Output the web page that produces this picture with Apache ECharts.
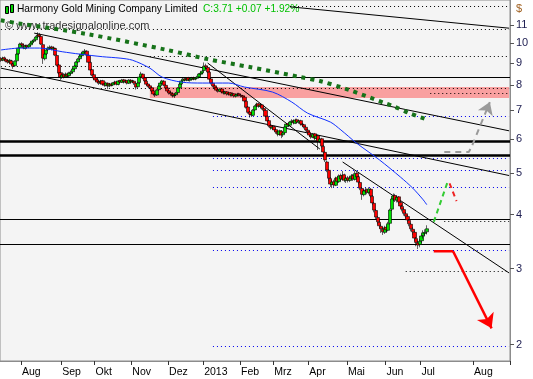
<!DOCTYPE html>
<html><head><meta charset="utf-8">
<script src="https://cdn.jsdelivr.net/npm/echarts@6/dist/echarts.min.js"></script>
<style>html,body{margin:0;padding:0;background:#fff}#c{width:533px;height:379px}</style>
</head><body><div id="c"></div>
<script>
// ---------- axis / calendar ----------
const firstDay = '2012-07-16', lastTradeDay = '2013-07-05', axisEndDay = '2013-08-21';
const holidays = ['2012-09-03','2012-10-29','2012-10-30','2012-11-22','2012-12-25','2013-01-01','2013-01-21','2013-02-18','2013-03-29','2013-05-27','2013-07-04'];
const monthNames = {'2012-08':'Aug','2012-09':'Sep','2012-10':'Okt','2012-11':'Nov','2012-12':'Dez','2013-01':'2013','2013-02':'Feb','2013-03':'Mrz','2013-04':'Apr','2013-05':'Mai','2013-06':'Jun','2013-07':'Jul','2013-08':'Aug'};
const yTicks = [2,3,4,5,6,7,8,9,10,11];
const yMin = 1.831, yMax = 12.59;

// ---------- daily candles (USD) ----------
const opens = [9.20,9.12,9.25,9.17,9.10,9.02,9.10,8.95,8.86,9.10,
9.45,9.76,9.97,9.88,9.72,9.86,9.80,9.91,10.02,10.10,
10.18,10.35,10.46,10.36,9.92,9.20,9.45,9.66,9.75,9.80,
9.68,9.72,9.36,8.90,8.54,8.33,8.45,8.35,8.47,8.40,
8.50,8.58,8.72,8.86,9.04,9.20,9.35,9.44,9.55,9.58,
9.36,9.02,8.68,8.45,8.31,8.22,8.14,8.06,8.18,8.04,
7.98,8.07,7.96,8.04,8.00,8.07,8.13,8.02,8.18,8.11,
8.22,8.13,8.18,8.07,8.20,8.13,8.16,8.06,7.92,8.10,
8.36,8.47,8.31,8.16,8.04,7.96,7.88,7.75,7.60,7.58,
7.80,7.96,8.07,8.16,7.98,7.86,7.75,7.67,7.63,7.55,
7.59,7.68,7.88,8.04,8.18,8.26,8.20,8.31,8.20,8.24,
8.31,8.26,8.29,8.35,8.47,8.53,8.64,8.86,8.78,8.56,
8.26,8.07,7.96,7.88,7.79,7.73,7.83,7.71,7.65,7.71,
7.61,7.67,7.57,7.63,7.53,7.59,7.63,7.57,7.55,7.49,
7.33,7.11,6.92,6.83,6.80,7.00,7.15,7.23,7.13,7.19,
7.05,6.98,6.76,6.61,6.44,6.35,6.40,6.30,6.23,6.14,
6.25,6.13,6.20,6.40,6.50,6.45,6.57,6.61,6.52,6.64,
6.55,6.61,6.48,6.47,6.38,6.28,6.21,6.11,6.05,6.16,
6.01,6.10,5.92,6.00,5.76,5.58,5.30,5.07,4.85,4.70,
4.77,4.68,4.87,4.77,4.93,4.83,4.95,4.80,4.87,4.80,
4.87,4.93,4.83,4.99,4.90,4.75,4.60,4.45,4.55,4.57,
4.50,4.58,4.41,4.25,4.09,3.94,3.84,3.76,3.70,3.64,
3.74,3.68,3.82,4.12,4.36,4.43,4.32,4.40,4.27,4.18,
4.11,4.02,3.96,3.88,3.80,3.70,3.64,3.52,3.44,3.41,
3.48,3.58,3.62,3.65];
const closes = [9.13,9.23,9.18,9.08,9.03,9.13,8.94,8.84,9.08,9.43,
9.74,9.95,9.90,9.74,9.85,9.79,9.90,10.00,10.11,10.16,
10.33,10.44,10.38,9.95,9.23,9.43,9.64,9.74,9.79,9.69,
9.74,9.38,8.89,8.52,8.34,8.43,8.34,8.48,8.39,8.52,
8.57,8.71,8.84,9.03,9.18,9.33,9.43,9.54,9.59,9.38,
9.03,8.66,8.43,8.30,8.21,8.12,8.08,8.17,8.03,7.99,
8.08,7.95,8.03,7.99,8.08,8.12,8.03,8.17,8.12,8.21,
8.12,8.17,8.08,8.21,8.12,8.17,8.08,7.91,8.08,8.34,
8.48,8.30,8.17,8.03,7.95,7.87,7.74,7.62,7.58,7.78,
7.95,8.08,8.17,7.99,7.87,7.74,7.66,7.62,7.54,7.58,
7.66,7.87,8.03,8.17,8.25,8.21,8.30,8.21,8.25,8.30,
8.25,8.30,8.34,8.48,8.52,8.61,8.84,8.80,8.57,8.25,
8.08,7.95,7.87,7.78,7.74,7.82,7.70,7.66,7.70,7.62,
7.66,7.58,7.62,7.54,7.58,7.62,7.58,7.54,7.50,7.34,
7.10,6.91,6.84,6.81,6.99,7.14,7.22,7.14,7.18,7.06,
6.99,6.77,6.60,6.43,6.36,6.39,6.29,6.22,6.15,6.26,
6.12,6.19,6.39,6.49,6.46,6.56,6.60,6.53,6.63,6.56,
6.60,6.49,6.46,6.39,6.29,6.22,6.12,6.06,6.15,6.02,
6.09,5.93,5.99,5.77,5.59,5.36,5.08,4.86,4.71,4.76,
4.69,4.86,4.78,4.92,4.84,4.94,4.81,4.86,4.81,4.86,
4.92,4.84,4.98,4.89,4.76,4.61,4.46,4.54,4.56,4.51,
4.59,4.42,4.26,4.10,3.95,3.85,3.77,3.71,3.65,3.73,
3.69,3.81,4.10,4.35,4.42,4.33,4.39,4.28,4.19,4.12,
4.03,3.97,3.89,3.81,3.71,3.65,3.53,3.45,3.40,3.47,
3.57,3.63,3.64,3.71];
const lows = [9.05,9.08,9.10,9.02,8.96,8.98,8.88,8.72,8.82,9.06,
9.40,9.70,9.82,9.68,9.66,9.72,9.75,9.86,9.96,10.04,
10.12,10.28,10.30,9.90,8.95,9.12,9.38,9.58,9.68,9.62,
9.60,9.33,8.84,8.46,8.22,8.26,8.28,8.30,8.32,8.35,
8.44,8.52,8.66,8.80,8.98,9.14,9.28,9.38,9.46,9.32,
8.98,8.60,8.38,8.22,8.14,8.06,8.00,8.02,7.98,7.92,
7.94,7.82,7.90,7.94,7.95,8.02,7.98,7.98,8.06,8.08,
8.06,8.08,8.02,8.04,8.06,8.08,8.00,7.80,7.88,8.06,
8.30,8.25,8.12,7.98,7.90,7.82,7.68,7.56,7.50,7.55,
7.75,7.92,8.02,7.94,7.82,7.70,7.60,7.55,7.48,7.46,
7.54,7.64,7.84,8.00,8.12,8.15,8.16,8.16,8.14,8.20,
8.20,8.20,8.24,8.30,8.42,8.48,8.60,8.70,8.52,8.20,
8.02,7.90,7.82,7.72,7.68,7.70,7.65,7.60,7.60,7.56,
7.56,7.52,7.52,7.48,7.48,7.54,7.52,7.48,7.44,7.28,
7.05,6.86,6.72,6.74,6.78,6.96,7.10,7.08,7.08,7.01,
6.93,6.72,6.55,6.38,6.30,6.29,6.24,6.16,6.08,6.10,
6.02,6.06,6.16,6.35,6.40,6.42,6.52,6.48,6.49,6.51,
6.50,6.44,6.40,6.34,6.24,6.15,6.06,6.00,6.02,5.96,
5.96,5.65,5.86,5.72,5.54,5.30,5.02,4.80,4.64,4.61,
4.63,4.66,4.73,4.74,4.79,4.80,4.76,4.74,4.75,4.76,
4.82,4.79,4.80,4.83,4.70,4.56,4.33,4.41,4.48,4.46,
4.46,4.38,4.21,4.05,3.90,3.80,3.71,3.63,3.59,3.61,
3.64,3.66,3.80,4.08,4.30,4.28,4.27,4.24,4.14,4.07,
3.98,3.92,3.84,3.76,3.66,3.59,3.48,3.38,3.33,3.36,
3.44,3.52,3.56,3.60];
const highs = [9.28,9.30,9.31,9.22,9.15,9.19,9.14,9.00,9.12,9.48,
9.80,10.02,10.05,9.94,9.92,9.92,9.96,10.06,10.18,10.24,
10.40,10.60,10.56,10.40,9.96,9.50,9.70,9.82,9.88,9.86,
9.82,9.76,9.40,8.95,8.58,8.50,8.52,8.55,8.54,8.58,
8.64,8.76,8.90,9.08,9.24,9.40,9.50,9.60,9.69,9.62,
9.40,9.06,8.72,8.50,8.36,8.28,8.20,8.22,8.22,8.08,
8.14,8.10,8.08,8.10,8.12,8.18,8.16,8.20,8.22,8.26,
8.26,8.22,8.22,8.25,8.25,8.22,8.20,8.10,8.12,8.40,
8.58,8.50,8.36,8.20,8.08,8.00,7.92,7.78,7.66,7.82,
8.00,8.12,8.22,8.20,8.02,7.90,7.78,7.72,7.68,7.62,
7.70,7.90,8.08,8.22,8.30,8.32,8.34,8.35,8.30,8.35,
8.36,8.34,8.40,8.52,8.58,8.66,9.02,8.96,8.84,8.60,
8.30,8.10,8.00,7.92,7.84,7.86,7.86,7.75,7.75,7.74,
7.70,7.70,7.66,7.66,7.62,7.67,7.67,7.62,7.58,7.52,
7.36,7.14,6.96,6.90,7.03,7.18,7.28,7.27,7.23,7.22,
7.09,7.01,6.79,6.64,6.48,6.44,6.43,6.34,6.27,6.30,
6.28,6.23,6.42,6.53,6.55,6.60,6.66,6.65,6.68,6.68,
6.64,6.64,6.53,6.50,6.41,6.31,6.25,6.15,6.19,6.19,
6.13,6.13,6.03,6.03,5.79,5.60,5.34,5.10,4.89,4.82,
4.82,4.90,4.92,4.96,4.98,5.05,4.98,4.90,4.92,4.90,
4.97,4.97,5.05,5.02,4.93,4.78,4.63,4.58,4.62,4.60,
4.63,4.61,4.44,4.28,4.12,3.97,3.88,3.80,3.74,3.77,
3.78,3.85,4.13,4.38,4.48,4.47,4.43,4.42,4.30,4.22,
4.14,4.06,3.99,3.91,3.83,3.74,3.67,3.55,3.48,3.51,
3.60,3.68,3.70,3.78];

// ---------- indicators: [day index, price] ----------
const maBlue = [[0,9.64],[11,9.74],[22,9.74],[35,9.55],[45,9.43],[58,9.30],[68,9.23],[75,9.13],[85,8.75],[92,8.34],[103,8.12],[115,8.08],[130,8.08],[139,7.91],[155,7.70],[166,7.30],[175,6.88],[188,6.56],[194,6.29],[203,5.86],[216,5.36],[228,4.89],[235,4.61],[241,4.33],[243,4.22]];
const maGreen = [[0,11.3],[9,11.13],[49,10.5],[95,9.64],[118,9.18],[142,8.80],[171,8.34],[182,8.17],[199,7.78],[219,7.26],[224,7.14],[233,6.88],[243,6.65]];

// ---------- drawn annotations ----------
const solidLevels = [8.34, 3.91, 3.42];
const thickLevels = [5.93, 5.50];
const dottedBlack = [[0,290,10.78],[0,85,8.84],[85,290,9.33],[165,290,12.19],[0,290,7.87],[245,290,7.66],[253,290,3.87],[231,290,2.95]];
const dottedBlueStart = 121;
const dottedBlue = [6.77, 5.41, 5.06, 4.64, 3.31, 1.98];
const pinkZone = [85, 290, 7.91, 7.46];
const trendLines = [
  [[19,10.55],[290,6.26]],
  [[0,8.75],[290,4.93]],
  [[118,8.99],[182,5.68]],
  [[195,5.30],[290,2.93]],
  [[165,12.14],[290,10.83]]
];
const greenProj = [[247,3.85],[255,4.78]];
const redProj = [[256,4.73],[260,4.30]];
const greyPath = [[253,5.59],[267,5.59],[269,5.80]];
const greyArrowEnd = [279,7.30];
const redPath = [[247,3.29],[258,3.29]];
const redArrowEnd = [280,2.18];

// ---------- build categories ----------
function fmt(d){return d.toISOString().slice(0,10);}
const cats = [];
let d = new Date(firstDay+'T00:00:00Z');
const endT = new Date(lastTradeDay+'T00:00:00Z');
while (d <= endT) { const wd = d.getUTCDay(), s = fmt(d); if (wd>0 && wd<6 && holidays.indexOf(s)<0) cats.push(s); d = new Date(d.getTime()+864e5); }
const endA = new Date(axisEndDay+'T00:00:00Z');
while (d <= endA) { cats.push(fmt(d)); d = new Date(d.getTime()+864e5); }
const lastIdx = cats.length-1;
const isMonthStart = i => i>0 && cats[i].slice(0,7) !== cats[i-1].slice(0,7);

const ohlc = opens.map((o,i)=>[o, closes[i], lows[i], highs[i]]);

const FONT = 'Liberation Sans, Arial, sans-serif';
const series = [];
series.push({
  type:'candlestick', data: ohlc, barWidth: 3.6, z: 5,
  itemStyle:{color:'#00e000', color0:'#ff0000', borderColor:'#000', borderColor0:'#000', borderWidth:0.6},
  markArea:{silent:true, z:1, itemStyle:{color:'#f9a0a0'}, data:[[{coord:[pinkZone[0],pinkZone[2]]},{coord:[pinkZone[1],pinkZone[3]]}]]},
  markLine:{silent:true, symbol:'none', label:{show:false}, z:2, animation:false,
    data: solidLevels.map(v=>({yAxis:v, lineStyle:{color:'#000', width:1, type:'solid'}}))
      .concat(thickLevels.map(v=>({yAxis:v, lineStyle:{color:'#000', width:2.5, type:'solid'}})))
      .concat(dottedBlack.map(a=>[{coord:[a[0],a[2]], lineStyle:{color:'#000', width:1, type:[1,3]}},{coord:[a[1],a[2]]}]))
      .concat(dottedBlue.map(v=>[{coord:[dottedBlueStart,v], lineStyle:{color:'#0000ee', width:1, type:[1,3]}},{coord:[lastIdx,v]}]))
  }
});
trendLines.forEach(t=>series.push({type:'line', data:t, symbol:'none', silent:true, z:3, lineStyle:{color:'#000', width:1}}));
series.push({type:'line', data:maBlue, symbol:'none', smooth:0.3, silent:true, z:6, lineStyle:{color:'#1030ff', width:1}});
series.push({type:'line', data:maGreen, symbol:'none', smooth:0.3, silent:true, z:6, lineStyle:{color:'#17731a', width:4, type:[4,5]}});
series.push({type:'line', data:greenProj, symbol:'none', silent:true, z:6, lineStyle:{color:'#33cc33', width:2, type:[5,4]}});
series.push({type:'line', data:redProj, symbol:'none', silent:true, z:6, lineStyle:{color:'#ee2222', width:2, type:[5,4]}});
series.push({type:'line', data:greyPath, symbol:'none', silent:true, z:6, lineStyle:{color:'#9a9a9a', width:2, type:[6,5]},
  markLine:{silent:true, symbol:['none','arrow'], symbolSize:12, label:{show:false}, animation:false,
    itemStyle:{color:'#9a9a9a'},
    lineStyle:{color:'#9a9a9a', width:2, type:[6,5]}, data:[[{coord:greyPath[greyPath.length-1]},{coord:greyArrowEnd}]]}});
series.push({type:'line', data:redPath, symbol:'none', silent:true, z:6, lineStyle:{color:'#ff0000', width:2.5},
  markLine:{silent:true, symbol:['none','arrow'], symbolSize:14, label:{show:false}, animation:false,
    itemStyle:{color:'#ff0000'},
    lineStyle:{color:'#ff0000', width:2.5, type:'solid'}, data:[[{coord:redPath[redPath.length-1]},{coord:redArrowEnd}]]}});

const chart = echarts.init(document.getElementById('c'), null, {renderer:'canvas'});
chart.setOption({
  animation:false,
  grid:{left:0, right:23, top:0, bottom:18, show:true, backgroundColor:'#f4f4f4', borderColor:'#8c8c8c', borderWidth:1},
  xAxis:{type:'category', data:cats, boundaryGap:true,
    axisLine:{show:true, lineStyle:{color:'#8c8c8c'}},
    axisTick:{show:true, interval:(i)=>isMonthStart(i), length:4, lineStyle:{color:'#333'}},
    axisLabel:{interval:(i)=>isMonthStart(i), formatter:(v)=>monthNames[v.slice(0,7)]||'', align:'left', margin:6, fontSize:10.5, color:'#000', fontFamily:FONT},
    splitLine:{show:false}},
  yAxis:{type:'log', logBase:10, position:'right', min:yMin, max:yMax,
    axisLine:{show:true, lineStyle:{color:'#8c8c8c'}},
    axisTick:{show:true, length:4, customValues:yTicks, lineStyle:{color:'#555'}},
    axisLabel:{customValues:yTicks, formatter:(v)=>String(Math.round(v)), margin:6, fontSize:11, color:'#1c1c50', fontFamily:FONT},
    splitLine:{show:false}},
  series: series,
  graphic:[
    {type:'rect', shape:{x:5.5,y:6.5,width:3,height:7}, style:{fill:'#00d000', stroke:'#000', lineWidth:1}},
    {type:'line', shape:{x1:7,y1:3,x2:7,y2:16}, style:{stroke:'#000', lineWidth:1}, z:-1},
    {type:'rect', shape:{x:10.5,y:4.5,width:3,height:8}, style:{fill:'#00d000', stroke:'#000', lineWidth:1}},
    {type:'line', shape:{x1:12,y1:2,x2:12,y2:15}, style:{stroke:'#000', lineWidth:1}, z:-1},
    {type:'text', x:17, y:9, style:{text:'Harmony Gold Mining Company Limited', font:'10.2px '+FONT, fill:'#000', verticalAlign:'middle'}},
    {type:'text', x:203, y:9, style:{text:'C:3.71 +0.07 +1.92%', font:'10.2px '+FONT, fill:'#00c000', verticalAlign:'middle'}},
    {type:'text', x:5, y:26, style:{text:'\u00a9 www.tradesignalonline.com', font:'11px '+FONT, fill:'#333', verticalAlign:'middle'}},
    {type:'text', x:516, y:9, style:{text:'$', font:'11px '+FONT, fill:'#a06020', verticalAlign:'middle'}}
  ]
});
</script></body></html>
